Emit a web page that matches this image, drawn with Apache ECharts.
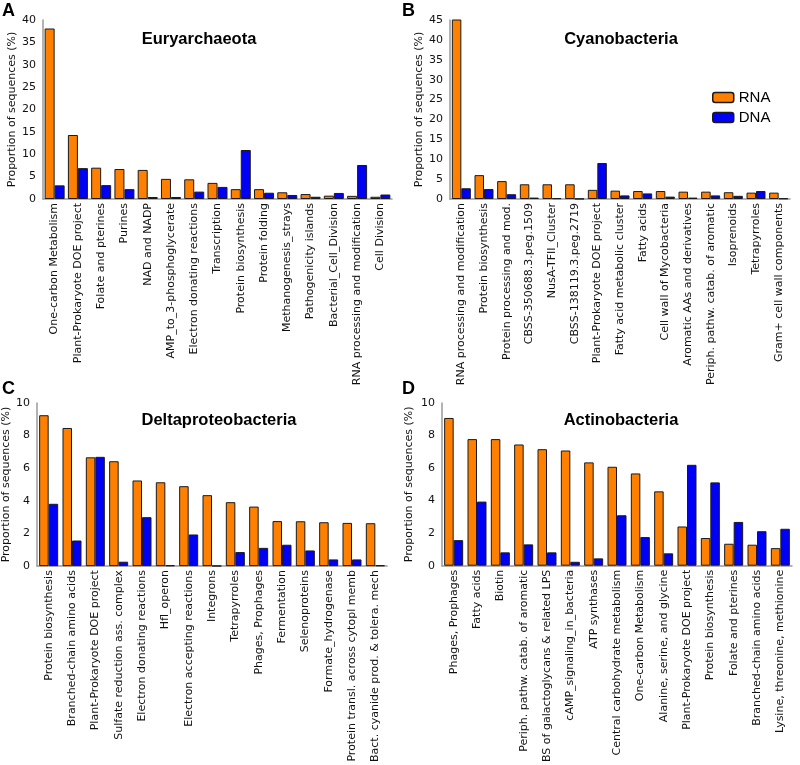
<!DOCTYPE html>
<html><head><meta charset="utf-8">
<script src="https://cdn.jsdelivr.net/npm/echarts@6/dist/echarts.min.js"></script>
<style>html,body{margin:0;padding:0;background:#fff}#c{width:800px;height:765px}</style>
</head><body><div id="c"></div>
<script>
// Panel A: Euryarchaeota
const catsA = ["One-carbon Metabolism","Plant-Prokaryote DOE project","Folate and pterines","Purines","NAD and NADP","AMP_to_3-phosphoglycerate","Electron donating reactions","Transcription","Protein biosynthesis","Protein folding","Methanogenesis_strays","Pathogenicity islands","Bacterial_Cell_Division","RNA processing and modification","Cell Division"];
const rnaA = [38.1,14.3,7.0,6.7,6.5,4.5,4.4,3.6,2.2,2.2,1.5,1.1,0.75,0.7,0.5];
const dnaA = [3.05,6.9,3.1,2.2,0.45,0.45,1.65,2.7,10.95,1.4,0.9,0.5,1.35,7.6,1.0];
// Panel B: Cyanobacteria
const catsB = ["RNA processing and modification","Protein biosynthesis","Protein processing and mod.","CBSS-350688.3.peg.1509","NusA-TFII_Cluster","CBSS-138119.3.peg.2719","Plant-Prokaryote DOE project","Fatty acid metabolic cluster","Fatty acids","Cell wall of Mycobacteria","Aromatic AAs and derivatives","Periph. pathw. catab. of aromatic","Isoprenoids","Tetrapyrroles","Gram+ cell wall components"];
const rnaB = [45.2,6.0,4.5,3.7,3.7,3.7,2.3,2.1,2.0,2.0,1.85,1.85,1.7,1.6,1.6];
const dnaB = [2.7,2.5,1.2,0.35,0.2,0.05,9.05,0.9,1.4,0.6,0.35,0.9,0.8,2.0,0.15];
// Panel C: Deltaproteobacteria
const catsC = ["Protein biosynthesis","Branched-chain amino acids","Plant-Prokaryote DOE project","Sulfate reduction ass. complex","Electron donating reactions","Hfl_operon","Electron accepting reactions","Integrons","Tetrapyrroles","Phages, Prophages","Fermentation","Selenoproteins","Formate_hydrogenase","Protein transl. across cytopl memb","Bact. cyanide prod. & tolera. mech"];
const rnaC = [9.25,8.47,6.67,6.43,5.25,5.14,4.9,4.35,3.92,3.65,2.76,2.75,2.69,2.65,2.63];
const dnaC = [3.82,1.57,6.7,0.27,3.0,0.05,1.94,0.02,0.86,1.12,1.31,0.96,0.41,0.41,0.05];
// Panel D: Actinobacteria
const catsD = ["Phages, Prophages","Fatty acids","Biotin","Periph. pathw. catab. of aromatic","BS of galactoglycans & related LPS","cAMP_signaling_in_bacteria","ATP synthases","Central carbohydrate metabolism","One-carbon Metabolism","Alanine, serine, and glycine","Plant-Prokaryote DOE project","Protein biosynthesis","Folate and pterines","Branched-chain amino acids","Lysine, threonine, methionine"];
const rnaD = [9.08,7.78,7.78,7.45,7.16,7.08,6.35,6.08,5.67,4.57,2.41,1.7,1.35,1.29,1.08];
const dnaD = [1.57,3.94,0.82,1.31,0.82,0.24,0.45,3.1,1.76,0.76,6.2,5.12,2.69,2.12,2.27];

const titles = ["Euryarchaeota","Cyanobacteria","Deltaproteobacteria","Actinobacteria"];
const letters = ["A","B","C","D"];
const yMax = [40,45,10,10];
const yInt = [5,5,2,2];
const yName = "Proportion of sequences (%)";

const panels = [
  {cats:catsA, rna:rnaA, dna:dnaA, grid:{left:43,top:20,width:349,height:179}, nameGap:22, barW:10, title:[194,26], letter:[-3,-3]},
  {cats:catsB, rna:rnaB, dna:dnaB, grid:{left:450,top:20,width:340,height:179}, nameGap:22, barW:9.5, title:[616,26], letter:[397,-3]},
  {cats:catsC, rna:rnaC, dna:dnaC, grid:{left:37,top:403,width:350,height:170}, nameGap:23, barW:9.5, title:[214,407], letter:[-3,375]},
  {cats:catsD, rna:rnaD, dna:dnaD, grid:{left:442,top:403,width:350,height:170}, nameGap:27, barW:9.5, title:[616,407], letter:[397,375]}
];

const FONT = "DejaVu Sans";
const ORANGE = "#ff8000", BLUE = "#0000f5";
const grid=[], xAxis=[], yAxis=[], series=[], title=[];
panels.forEach((p,i)=>{
  grid.push(Object.assign({containLabel:false}, p.grid));
  xAxis.push({type:'category', gridIndex:i, data:p.cats,
    axisLine:{lineStyle:{color:'#9a9a9a',width:1.5}}, axisTick:{show:false},
    axisLabel:{rotate:90, interval:0, margin:4, fontFamily:FONT, fontSize:11, color:'#111'}});
  yAxis.push({type:'value', gridIndex:i, min:0, max:yMax[i], interval:yInt[i],
    name:yName, nameLocation:'middle', nameGap:p.nameGap, nameRotate:90,
    nameTextStyle:{fontFamily:FONT, fontSize:11, color:'#111'},
    axisLine:{show:true, lineStyle:{color:'#9a9a9a',width:1.5}}, axisTick:{show:false}, splitLine:{show:false},
    axisLabel:{margin:7, fontFamily:FONT, fontSize:11, color:'#111'}});
  series.push({name:'RNA', type:'bar', xAxisIndex:i, yAxisIndex:i, data:p.rna, barWidth:p.barW, barGap:'0%',
    itemStyle:{color:ORANGE, borderColor:'#1a1a1a', borderWidth:1}, silent:true, animation:false});
  series.push({name:'DNA', type:'bar', xAxisIndex:i, yAxisIndex:i, data:p.dna, barWidth:p.barW, barGap:'0%',
    itemStyle:{color:BLUE, borderColor:'#1a1a1a', borderWidth:1}, silent:true, animation:false});
  title.push({text:titles[i], left:p.title[0], top:p.title[1], textAlign:'center',
    textStyle:{fontFamily:'Liberation Sans', fontWeight:'bold', fontSize:16.5, color:'#000'}});
  title.push({text:letters[i], left:p.letter[0], top:p.letter[1],
    textStyle:{fontFamily:'Liberation Sans', fontWeight:'bold', fontSize:18, color:'#000'}});
});

const chart = echarts.init(document.getElementById('c'), null, {renderer:'canvas'});
chart.setOption({
  animation:false,
  title:title,
  legend:{data:['RNA','DNA'], orient:'vertical', left:707, top:85, itemWidth:21, itemHeight:10, itemGap:5,
    textStyle:{fontFamily:'Liberation Sans', fontSize:15, color:'#000'},
    itemStyle:{borderColor:'#1a1a1a', borderWidth:1.5}},
  grid:grid, xAxis:xAxis, yAxis:yAxis, series:series
});
</script></body></html>
